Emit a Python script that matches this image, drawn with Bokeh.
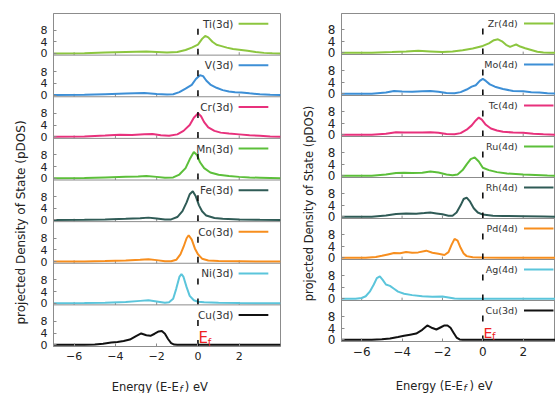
import numpy as np
from bokeh.plotting import figure
from bokeh.models import FixedTicker, CustomJSTickFormatter, Span, Range1d
from bokeh.layouts import row, column
from bokeh.embed import file_html
from bokeh.resources import INLINE
from bokeh.core.properties import value

# ---------------- data ----------------
left_labels = ["Ti(3d)", "V(3d)", "Cr(3d)", "Mn(3d)", "Fe(3d)", "Co(3d)", "Ni(3d)", "Cu(3d)"]
right_labels = ["Zr(4d)", "Mo(4d)", "Tc(4d)", "Ru(4d)", "Rh(4d)", "Pd(4d)", "Ag(4d)", "Cu(3d)"]
series_colors = ["#8cc63f", "#3d8fd6", "#e8317c", "#5cbf3a", "#2f5b56", "#f78e1e", "#5bc5db", "#111111"]
x_ticks = [-6, -4, -2, 0, 2]
y_ticks = [0, 4, 8]
fermi_level = 0.0
x_label_main = "Energy (E-E"
x_label_sub = "f"
x_label_tail = ") eV"
y_label = "projected Density of State (pDOS)"

ti_x = [-7, -5.5, -4.5, -3.5, -3.0, -2.5, -2.0, -1.5, -1.0, -0.6, -0.3, 0.0, 0.2, 0.35, 0.5, 0.7, 0.9, 1.1, 1.4, 1.7, 2.0, 2.4, 2.8, 3.2, 3.6, 4.0]
ti_y = [0, 0.1, 0.3, 0.5, 0.6, 0.7, 0.5, 0.3, 0.5, 1.2, 2.0, 3.0, 5.0, 6.0, 5.5, 4.0, 3.0, 2.6, 2.0, 1.5, 1.3, 0.9, 0.5, 0.2, 0.05, 0]
v_x = [-7, -5.5, -4.5, -3.5, -2.6, -2.0, -1.5, -1.2, -0.9, -0.6, -0.3, -0.1, 0.1, 0.25, 0.4, 0.6, 0.9, 1.2, 1.5, 1.8, 2.1, 2.5, 3.0, 3.5, 4.0]
v_y = [0, 0.1, 0.3, 0.5, 0.7, 0.4, 0.2, 0.3, 1.0, 2.2, 3.5, 5.5, 6.8, 6.5, 5.0, 3.6, 2.5, 1.7, 1.2, 1.0, 0.9, 0.6, 0.3, 0.1, 0]
cr_x = [-7, -5.5, -4.5, -3.8, -3.2, -2.6, -2.2, -1.8, -1.4, -1.0, -0.7, -0.4, -0.2, 0.0, 0.15, 0.3, 0.5, 0.8, 1.1, 1.5, 2.0, 2.5, 3.0, 3.5, 4.0]
cr_y = [0, 0.1, 0.4, 0.7, 0.6, 0.8, 0.9, 0.5, 0.3, 0.8, 2.0, 4.0, 6.5, 8.0, 7.0, 5.0, 3.2, 2.0, 1.4, 1.1, 0.8, 0.5, 0.3, 0.1, 0]
mn_x = [-7, -5.5, -4.5, -3.5, -2.9, -2.5, -2.0, -1.6, -1.2, -0.9, -0.6, -0.4, -0.2, -0.05, 0.1, 0.3, 0.6, 1.0, 1.5, 2.0, 2.5, 3.0, 3.5, 4.0]
mn_y = [0, 0.1, 0.3, 0.5, 0.6, 0.8, 0.5, 0.2, 0.3, 1.3, 3.5, 6.5, 9.0, 8.0, 5.5, 3.5, 2.0, 1.2, 0.8, 0.5, 0.3, 0.2, 0.1, 0]
fe_x = [-7, -5.5, -4.5, -3.5, -2.8, -2.4, -2.0, -1.6, -1.3, -1.0, -0.75, -0.55, -0.4, -0.25, -0.1, 0.05, 0.2, 0.4, 0.8, 1.2, 2.0, 3.0, 4.0]
fe_y = [0, 0.05, 0.2, 0.4, 0.6, 0.8, 0.5, 0.15, 0.2, 1.0, 3.0, 6.0, 8.8, 9.8, 8.0, 5.0, 3.0, 1.5, 0.7, 0.4, 0.2, 0.05, 0]
co_x = [-7, -5.5, -4.5, -3.5, -2.8, -2.4, -2.0, -1.6, -1.3, -1.05, -0.85, -0.7, -0.55, -0.45, -0.3, -0.15, 0.0, 0.2, 0.5, 1.0, 2.0, 3.0, 4.0]
co_y = [0, 0.05, 0.2, 0.4, 0.6, 0.8, 0.5, 0.1, 0.1, 0.6, 2.5, 5.0, 8.0, 9.0, 7.5, 4.5, 2.5, 1.0, 0.4, 0.2, 0.1, 0, 0]
ni_x = [-7, -5.5, -4.5, -3.5, -2.8, -2.4, -2.0, -1.6, -1.4, -1.2, -1.05, -0.9, -0.8, -0.7, -0.55, -0.4, -0.2, 0.0, 0.3, 1.0, 2.0, 3.0, 4.0]
ni_y = [0, 0.05, 0.2, 0.4, 0.8, 1.0, 0.6, 0.15, 0.3, 1.5, 5.0, 9.0, 10.0, 9.0, 5.5, 2.5, 1.0, 0.5, 0.3, 0.15, 0.05, 0, 0]
cu_l_x = [-7, -5.5, -5.0, -4.6, -4.2, -3.9, -3.6, -3.3, -3.0, -2.75, -2.5, -2.3, -2.1, -1.9, -1.75, -1.6, -1.45, -1.3, -1.15, -1.0, 0, 4.0]
cu_l_y = [0, 0.05, 0.15, 0.4, 0.8, 1.0, 1.3, 1.8, 3.0, 3.9, 3.3, 3.1, 3.8, 4.6, 4.7, 3.8, 2.0, 0.6, 0.1, 0.03, 0, 0]

zr_x = [-7, -5.5, -4.5, -3.8, -3.2, -2.6, -2.0, -1.5, -1.0, -0.5, 0.0, 0.3, 0.55, 0.75, 0.95, 1.15, 1.35, 1.5, 1.65, 1.85, 2.1, 2.4, 2.7, 3.0, 3.3, 3.6]
zr_y = [0, 0.05, 0.3, 0.5, 0.7, 0.5, 0.3, 0.5, 0.9, 1.5, 2.4, 3.3, 4.4, 4.7, 4.0, 2.8, 2.1, 2.5, 2.9, 2.2, 1.6, 1.0, 0.4, 0.1, 0, 0]
mo_x = [-7, -5.5, -4.8, -4.4, -4.0, -3.5, -3.0, -2.6, -2.2, -1.8, -1.4, -1.1, -0.8, -0.55, -0.35, -0.15, 0.0, 0.15, 0.35, 0.6, 1.0, 1.5, 2.0, 2.4, 2.8, 3.2, 3.6]
mo_y = [0, 0.05, 0.5, 1.0, 0.8, 0.7, 0.9, 1.0, 0.7, 0.3, 0.2, 0.6, 1.5, 2.5, 3.0, 4.5, 5.2, 4.5, 3.3, 2.5, 1.7, 1.0, 0.9, 0.6, 0.5, 0.2, 0.1]
tc_x = [-7, -5.5, -4.8, -4.3, -3.9, -3.5, -3.0, -2.6, -2.2, -1.8, -1.4, -1.1, -0.8, -0.55, -0.35, -0.2, -0.05, 0.15, 0.4, 0.7, 1.0, 1.5, 2.0, 2.5, 3.0, 3.6]
tc_y = [0, 0.05, 0.4, 0.9, 0.8, 0.8, 0.8, 0.9, 0.7, 0.3, 0.2, 0.6, 1.8, 3.3, 5.0, 6.0, 5.3, 3.5, 2.2, 1.5, 1.1, 0.8, 0.7, 0.4, 0.2, 0.05]
ru_x = [-7, -5.5, -4.8, -4.3, -3.9, -3.5, -3.0, -2.6, -2.2, -1.8, -1.5, -1.25, -1.0, -0.8, -0.6, -0.4, -0.2, 0.0, 0.3, 0.7, 1.2, 2.0, 2.6, 3.2, 3.6]
ru_y = [0, 0.05, 0.5, 1.0, 1.1, 1.0, 1.1, 1.5, 1.2, 0.5, 0.2, 0.5, 2.0, 4.0, 5.8, 6.4, 5.0, 2.8, 2.0, 1.3, 0.8, 0.5, 0.3, 0.1, 0.05]
rh_x = [-7, -5.5, -4.8, -4.3, -3.8, -3.3, -2.9, -2.6, -2.3, -2.0, -1.7, -1.5, -1.3, -1.1, -0.95, -0.8, -0.65, -0.45, -0.25, 0.0, 0.5, 1.0, 2.0, 3.0, 3.6]
rh_y = [0, 0.05, 0.5, 1.0, 1.2, 1.1, 1.3, 1.5, 1.2, 0.9, 0.4, 0.4, 1.5, 4.0, 6.2, 6.7, 5.5, 3.0, 1.5, 0.8, 0.4, 0.3, 0.2, 0.1, 0.05]
pd_x = [-7, -5.8, -5.3, -5.0, -4.7, -4.4, -4.1, -3.8, -3.5, -3.2, -2.8, -2.5, -2.2, -1.9, -1.7, -1.55, -1.4, -1.25, -1.1, -0.95, -0.8, -0.5, 0.0, 1.0, 3.6]
pd_y = [0, 0.05, 0.3, 0.7, 1.2, 1.7, 1.6, 2.0, 1.8, 1.9, 2.5, 1.8, 1.4, 1.0, 2.0, 4.5, 6.6, 6.0, 3.5, 1.5, 0.6, 0.2, 0.1, 0.05, 0]
ag_x = [-7, -6.3, -6.0, -5.8, -5.6, -5.4, -5.25, -5.1, -4.95, -4.8, -4.6, -4.4, -4.2, -3.9, -3.5, -3.0, -2.5, -2.0, -1.7, -1.4, -1.1, -0.5, 0.0, 3.6]
ag_y = [0, 0.05, 0.3, 0.9, 2.5, 5.0, 7.2, 7.8, 6.5, 5.0, 4.5, 3.5, 2.5, 1.8, 1.3, 0.9, 0.7, 0.8, 0.5, 0.15, 0.05, 0, 0, 0]
cu_r_x = [-7, -5.5, -5.0, -4.6, -4.2, -3.9, -3.6, -3.3, -3.0, -2.75, -2.5, -2.3, -2.1, -1.9, -1.75, -1.6, -1.45, -1.3, -1.15, -1.0, 0, 3.6]
cu_r_y = [0, 0.05, 0.2, 0.5, 1.0, 1.4, 1.8, 2.2, 3.5, 5.0, 4.1, 3.6, 4.3, 5.0, 5.0, 4.2, 2.5, 0.8, 0.15, 0.03, 0, 0]

left_series = [(ti_x, ti_y), (v_x, v_y), (cr_x, cr_y), (mn_x, mn_y),
               (fe_x, fe_y), (co_x, co_y), (ni_x, ni_y), (cu_l_x, cu_l_y)]
right_series = [(zr_x, zr_y), (mo_x, mo_y), (tc_x, tc_y), (ru_x, ru_y),
                (rh_x, rh_y), (pd_x, pd_y), (ag_x, ag_y), (cu_r_x, cu_r_y)]

# ---------------- layout / style ----------------
N = 8
H = 14.25      # height of one stacked block (data units)
Y0 = 0.57      # zero of each block above its lower edge
FONT = "DejaVu Sans"
GRAY = "#8c8c8c"
TXT = "#222222"
TOTAL_H = 393
MAIN_H = 372


def blank(width, height, xr, yr, bl=0, br=0):
    f = figure(width=width, height=height, x_range=xr, y_range=yr,
               output_backend="svg", toolbar_location=None,
               x_axis_type=None, y_axis_type=None,
               min_border=0, min_border_left=bl, min_border_right=br,
               min_border_top=0, min_border_bottom=0)
    f.grid.visible = False
    f.outline_line_color = None
    f.background_fill_color = "white"
    f.border_fill_color = "white"
    return f


def make_panel(series, labels, ylab_w, ylab_cx, ylab_cy, ylab_size,
               width, b_left, b_right, b_bottom, x_end,
               tick_size, leg_size, leg_text_x, leg_line,
               xlab_base, xlab_x, xlab_size, ef_pos):
    xr = Range1d(-7, x_end)
    p = figure(width=width, height=MAIN_H, x_range=xr, y_range=Range1d(0, N * H),
               output_backend="svg", toolbar_location=None,
               min_border_left=b_left, min_border_right=b_right,
               min_border_top=13, min_border_bottom=b_bottom)
    p.xgrid.visible = False
    p.ygrid.visible = False
    p.outline_line_color = GRAY
    p.outline_line_width = 1
    p.background_fill_color = "white"
    p.border_fill_color = "white"

    bases = [(N - 1 - i) * H + Y0 for i in range(N)]

    for k in range(1, N):
        p.add_layout(Span(location=k * H, dimension="width", line_color=GRAY, line_width=1))
        p.segment(x0=x_ticks, x1=x_ticks, y0=[k * H] * len(x_ticks), y1=[k * H + 1.0] * len(x_ticks),
                  line_color=GRAY, line_width=1)

    for i, ((xs, ys), lab, col) in enumerate(zip(series, labels, series_colors)):
        b = bases[i]
        p.line(x=xs, y=[b + v for v in ys], line_color=col, line_width=2)
        p.segment(x0=[fermi_level], x1=[fermi_level], y0=[b + 8.5], y1=[b - Y0],
                  line_color="black", line_width=1.5, line_dash="6 14")
        ly = b + H - Y0 - 3.5
        p.text(x=[leg_text_x], y=[ly], text=[lab], text_align="right", text_baseline="middle",
               text_font=value(FONT), text_font_size=leg_size, text_color="#333333")
        p.segment(x0=[leg_line[0]], x1=[leg_line[1]], y0=[ly], y1=[ly], line_color=col, line_width=2)

    p.xaxis.ticker = FixedTicker(ticks=x_ticks)
    p.yaxis.ticker = FixedTicker(ticks=[b + t for b in bases for t in y_ticks])
    p.yaxis.formatter = CustomJSTickFormatter(args=dict(H=H, Y0=Y0), code="""
        const v = tick - Math.floor(tick / H) * H - Y0;
        return Math.round(v).toString();
    """)
    for ax in (p.xaxis[0], p.yaxis[0]):
        ax.major_tick_in = 3
        ax.major_tick_out = 0
        ax.minor_tick_line_color = None
        ax.axis_line_color = GRAY
        ax.major_tick_line_color = GRAY
        ax.major_label_text_font = FONT
        ax.major_label_text_font_size = tick_size
        ax.major_label_text_color = TXT
    p.xaxis.major_label_standoff = 5
    p.yaxis.major_label_standoff = 6

    # E_f marker
    bcu = bases[-1]
    p.text(x=[fermi_level + 0.03], y=[bcu + ef_pos[0]], text=["E"], text_align="left",
           text_baseline="alphabetic", text_font=value(FONT), text_font_size=ef_pos[1],
           text_color="#ee2222")
    p.text(x=[fermi_level + ef_pos[2]], y=[bcu + ef_pos[0] - 1.3], text=["f"], text_align="left",
           text_baseline="alphabetic", text_font=value(FONT), text_font_size="10px",
           text_color="#ee2222")

    # x-axis title strip (shares the x range so the text sits in data coordinates)
    strip_h = TOTAL_H - MAIN_H
    xs_fig = blank(width, strip_h, xr, Range1d(0, strip_h), bl=b_left, br=b_right)
    xs_fig.text(x=[xlab_x[0]], y=[xlab_base], text=[x_label_main], text_align="right",
                text_baseline="alphabetic", text_font=value(FONT), text_font_size=xlab_size,
                text_color=TXT)
    xs_fig.text(x=[xlab_x[0] + 0.03], y=[xlab_base - 2.5], text=[x_label_sub], text_align="left",
                text_baseline="alphabetic", text_font=value(FONT), text_font_style="italic",
                text_font_size="9px", text_color=TXT)
    xs_fig.text(x=[xlab_x[1]], y=[xlab_base], text=[x_label_tail], text_align="left",
                text_baseline="alphabetic", text_font=value(FONT), text_font_size=xlab_size,
                text_color=TXT)

    # y-axis title strip
    ys_fig = blank(ylab_w, TOTAL_H, Range1d(0, ylab_w), Range1d(0, TOTAL_H))
    ys_fig.text(x=[ylab_cx], y=[TOTAL_H - ylab_cy], text=[y_label], angle=np.pi / 2,
                text_align="center", text_baseline="middle", text_font=value(FONT),
                text_font_size=ylab_size, text_color=TXT)

    return row(ys_fig, column(p, xs_fig, spacing=0), spacing=0)


left = make_panel(left_series, left_labels, ylab_w=30, ylab_cx=20, ylab_cy=222, ylab_size="12px",
                  width=251, b_left=23, b_right=1, b_bottom=26, x_end=4.0,
                  tick_size="11px", leg_size="10.5px", leg_text_x=1.72, leg_line=(1.97, 3.41),
                  xlab_base=7.0, xlab_x=(-0.93, -0.64), xlab_size="11.5px",
                  ef_pos=(2.2, "15px", 0.47))
right = make_panel(right_series, right_labels, ylab_w=39, ylab_cx=27, ylab_cy=203, ylab_size="11.5px",
                   width=235, b_left=21, b_right=0, b_bottom=31, x_end=3.6,
                   tick_size="12px", leg_size="9.5px", leg_text_x=1.73, leg_line=(2.04, 3.5),
                   xlab_base=8.0, xlab_x=(-0.99, -0.66), xlab_size="11.5px",
                   ef_pos=(2.3, "14px", 0.45))

layout = row(left, right, spacing=0)
open("out.html", "w").write(file_html(layout, INLINE))
